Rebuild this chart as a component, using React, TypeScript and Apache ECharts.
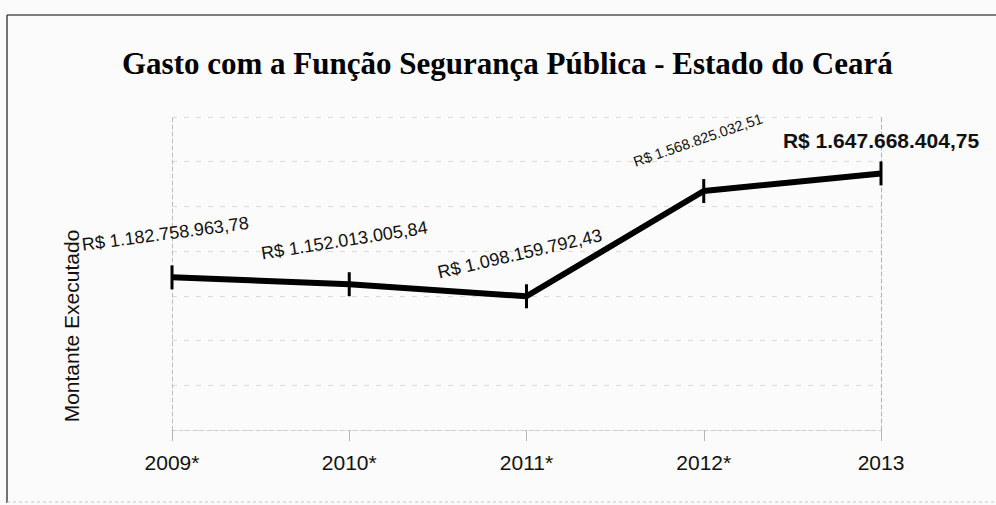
import React, { useEffect, useRef } from "react";
import * as echarts from "echarts";

// ---- data ----
const categories = ["2009*", "2010*", "2011*", "2012*", "2013"];
const values = [1182758963.78, 1152013005.84, 1098159792.43, 1568825032.51, 1647668404.75];
const yMin = 500000000;
const yMax = 1900000000;
const gridSteps = 7;

const titleText = "Gasto com a Função Segurança Pública - Estado do Ceará";
const yAxisTitle = "Montante Executado";

// ---- label styling per point (not data) ----
const labelStyles = [
  { rotate: 7.5, offset: [-1, -44], fontSize: 18, fontWeight: "normal" },
  { rotate: 9, offset: [2, -44], fontSize: 18, fontWeight: "normal" },
  { rotate: 13, offset: [3, -43], fontSize: 18, fontWeight: "normal" },
  { rotate: 19, offset: [11, -50], fontSize: 14.5, fontWeight: "normal" },
  { rotate: 0, offset: [0, -33], fontSize: 21, fontWeight: "bold" },
];

function formatBRL(v: number): string {
  const fixed = v.toFixed(2);
  const [intPart, dec] = fixed.split(".");
  const withDots = intPart.replace(/\B(?=(\d{3})+(?!\d))/g, ".");
  return "R$ " + withDots + "," + dec;
}

const SANS = "'Liberation Sans', Arial, sans-serif";
const SERIF = "'Liberation Serif', 'Times New Roman', serif";
const BG = "#fbfbfb";
const GRID = "#dadada";

export default function App() {
  const ref = useRef<HTMLDivElement>(null);

  useEffect(() => {
    document.body.style.margin = "0";
    document.body.style.background = BG;
    if (!ref.current) return;
    const chart = echarts.init(ref.current, null, { renderer: "svg" });

    const option: any = {
      animation: false,
      backgroundColor: BG,
      title: {
        text: titleText,
        left: 122,
        top: 48,
        padding: 0,
        textStyle: {
          fontFamily: SERIF,
          fontSize: 31,
          fontWeight: "bold",
          color: "#000",
        },
      },
      grid: { left: 172, right: 115, top: 117, bottom: 75 },
      xAxis: {
        type: "category",
        data: categories,
        boundaryGap: false,
        axisLine: { show: true, lineStyle: { color: "#cfcfcf", type: [4, 3], width: 1 } },
        axisTick: { show: true, length: 11, lineStyle: { color: "#b5b5b5", width: 1 } },
        axisLabel: {
          color: "#111",
          fontFamily: SANS,
          fontSize: 21,
          margin: 22,
        },
        splitLine: { show: false },
      },
      yAxis: [
        {
          type: "value",
          min: yMin,
          max: yMax,
          position: "left",
          axisLine: { show: true, lineStyle: { color: "#bdbdbd", type: [4, 3], width: 1 } },
          axisTick: { show: false },
          axisLabel: { show: false },
          splitLine: { show: false },
        },
        {
          type: "value",
          min: 0,
          max: gridSteps,
          interval: 1,
          position: "right",
          axisLine: { show: true, lineStyle: { color: "#b0b0b0", type: [4, 3], width: 1 } },
          axisTick: { show: false },
          axisLabel: { show: false },
          splitLine: { show: true, lineStyle: { color: GRID, type: [5, 7], width: 1 } },
        },
      ],
      graphic: [
        {
          type: "line",
          shape: { x1: 7, y1: 15, x2: 996, y2: 15 },
          style: { stroke: "#555", lineWidth: 1.5 },
        },
        {
          type: "line",
          shape: { x1: 7, y1: 15, x2: 7, y2: 503 },
          style: { stroke: "#444", lineWidth: 1.5 },
        },
        {
          type: "line",
          shape: { x1: 7, y1: 502, x2: 996, y2: 502 },
          style: { stroke: "#c4c4c4", lineWidth: 1, lineDash: [3, 3] },
        },
        {
          type: "text",
          x: 71,
          y: 326,
          rotation: Math.PI / 2,
          style: {
            text: yAxisTitle,
            fontFamily: SANS,
            fontSize: 21,
            fill: "#111",
            align: "center",
            verticalAlign: "middle",
          },
        },
      ],
      series: [
        {
          type: "line",
          yAxisIndex: 0,
          data: values.map((v, i) => ({
            value: v,
            label: {
              rotate: labelStyles[i].rotate,
              offset: labelStyles[i].offset,
              fontSize: labelStyles[i].fontSize,
              fontWeight: labelStyles[i].fontWeight,
            },
          })),
          lineStyle: { color: "#000", width: 6 },
          symbol: "rect",
          symbolSize: [3, 24],
          showSymbol: true,
          itemStyle: { color: "#000" },
          label: {
            show: true,
            position: "inside",
            formatter: (p: any) => formatBRL(p.value),
            color: "#111",
            fontFamily: SANS,
            textBorderWidth: 0,
            align: "center",
            verticalAlign: "middle",
          },
          z: 3,
        },
      ],
    };

    chart.setOption(option);
    return () => chart.dispose();
  }, []);

  return <div ref={ref} style={{ width: 996, height: 505 }} />;
}
